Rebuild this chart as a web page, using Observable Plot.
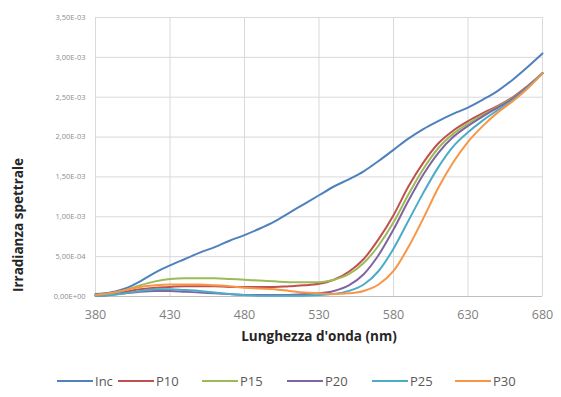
<!DOCTYPE html>
<html>
<head>
<meta charset="utf-8">
<script src="https://cdn.jsdelivr.net/npm/d3@7"></script>
<script src="https://cdn.jsdelivr.net/npm/@observablehq/plot@0.6"></script>
<style>
  body { margin: 0; background: #fff; font-family: "Open Sans", Lato, sans-serif; }
  #legend { position: relative; height: 20px; margin-top: 27px; font-size: 13px; color: #595959; }
  .item { position: absolute; top: 0; display: flex; align-items: center; height: 18px; }
  .swatch { display: inline-block; width: 36px; height: 2px; margin-right: 2px; }
</style>
</head>
<body>
<div id="chart"></div>
<div id="legend"></div>
<script>
const wavelengths = [380,390,400,410,420,430,440,450,460,470,480,490,500,510,520,530,540,550,560,570,580,590,600,610,620,630,640,650,660,670,680];
// values in units of 1e-3
const inc = [0.03,0.05,0.10,0.19,0.30,0.39,0.47,0.55,0.62,0.70,0.77,0.85,0.94,1.05,1.16,1.27,1.38,1.47,1.57,1.70,1.84,1.98,2.10,2.20,2.29,2.37,2.47,2.58,2.72,2.88,3.05];
const p10 = [0.02,0.03,0.06,0.09,0.11,0.12,0.13,0.13,0.13,0.12,0.12,0.12,0.12,0.13,0.14,0.16,0.21,0.31,0.47,0.72,1.02,1.38,1.68,1.92,2.08,2.20,2.30,2.39,2.50,2.64,2.80];
const p15 = [0.02,0.04,0.08,0.14,0.19,0.22,0.23,0.23,0.23,0.22,0.21,0.20,0.19,0.18,0.18,0.18,0.21,0.28,0.42,0.64,0.93,1.28,1.60,1.86,2.04,2.17,2.28,2.38,2.49,2.63,2.80];
const p20 = [0.01,0.02,0.04,0.06,0.07,0.07,0.06,0.05,0.04,0.03,0.02,0.02,0.02,0.02,0.03,0.04,0.07,0.14,0.28,0.52,0.84,1.20,1.53,1.80,2.00,2.14,2.26,2.37,2.48,2.63,2.80];
const p25 = [0.01,0.02,0.04,0.07,0.09,0.09,0.08,0.07,0.05,0.03,0.02,0.01,0.01,0.01,0.01,0.02,0.03,0.07,0.15,0.32,0.60,0.95,1.30,1.62,1.88,2.06,2.21,2.34,2.46,2.62,2.80];
const p30 = [0.02,0.04,0.08,0.12,0.14,0.15,0.15,0.15,0.14,0.13,0.11,0.10,0.09,0.07,0.05,0.04,0.03,0.04,0.07,0.15,0.32,0.62,0.98,1.36,1.68,1.94,2.14,2.31,2.45,2.61,2.80];

const seriesNames = ["Inc","P10","P15","P20","P25","P30"];
const seriesValues = [inc,p10,p15,p20,p25,p30];
const colors = ["#4F81BD","#C0504D","#9BBB59","#8064A2","#4BACC6","#F79646"];

const xTicks = [380,430,480,530,580,630,680];
const yTicks = [0,0.5,1,1.5,2,2.5,3,3.5];
const yTickLabels = ["0,00E+00","5,00E-04","1,00E-03","1,50E-03","2,00E-03","2,50E-03","3,00E-03","3,50E-03"];
const xTitle = "Lunghezza d'onda (nm)";
const yTitle = "Irradianza spettrale";

const data = seriesNames.flatMap((s, i) => wavelengths.map((w, j) => ({series: s, wl: w, v: seriesValues[i][j]})));

const chart = Plot.plot({
  width: 561,
  height: 345,
  marginLeft: 95,
  marginRight: 19,
  marginTop: 17,
  marginBottom: 49,
  style: {fontFamily: "'Open Sans', Lato, sans-serif", background: "#fff"},
  x: {domain: [380, 680]},
  y: {domain: [0, 3.5]},
  color: {domain: seriesNames, range: colors},
  marks: [
    Plot.gridX(xTicks, {stroke: "#d9d9d9", strokeOpacity: 1}),
    Plot.gridY(yTicks, {stroke: "#d9d9d9", strokeOpacity: 1}),
    Plot.ruleY([0], {stroke: "#bfbfbf"}),
    Plot.axisX(xTicks, {tickSize: 0, tickPadding: 14, fontSize: 12.5, fill: "#7f7f7f", label: null}),
    Plot.axisY(yTicks, {tickSize: 0, tickPadding: 10, fontSize: 7.5, fill: "#8c8c8c", label: null,
      tickFormat: d => yTickLabels[yTicks.indexOf(d)]}),
    Plot.line(data, {x: "wl", y: "v", stroke: "series", strokeWidth: 2, curve: "monotone-x"}),
    Plot.text([xTitle], {frameAnchor: "bottom", dy: 44, fontSize: 13.5, fontWeight: "bold", fill: "#262626"})
  ]
});
// rotated y-axis title placed explicitly
d3.select(chart).append("text")
  .attr("transform", "translate(19,225) rotate(-90)")
  .attr("text-anchor", "middle")
  .attr("dominant-baseline", "middle")
  .attr("font-size", 13.5)
  .attr("font-weight", "bold")
  .attr("fill", "#262626")
  .text(yTitle);
document.getElementById("chart").appendChild(chart);

const legendX = [57, 118, 202, 287, 372, 455];
const legend = document.getElementById("legend");
seriesNames.forEach((s, i) => {
  const item = document.createElement("div");
  item.className = "item";
  item.style.left = legendX[i] + "px";
  const sw = document.createElement("span");
  sw.className = "swatch";
  sw.style.background = colors[i];
  item.appendChild(sw);
  const t = document.createElement("span");
  t.textContent = s;
  item.appendChild(t);
  legend.appendChild(item);
});
</script>
</body>
</html>
